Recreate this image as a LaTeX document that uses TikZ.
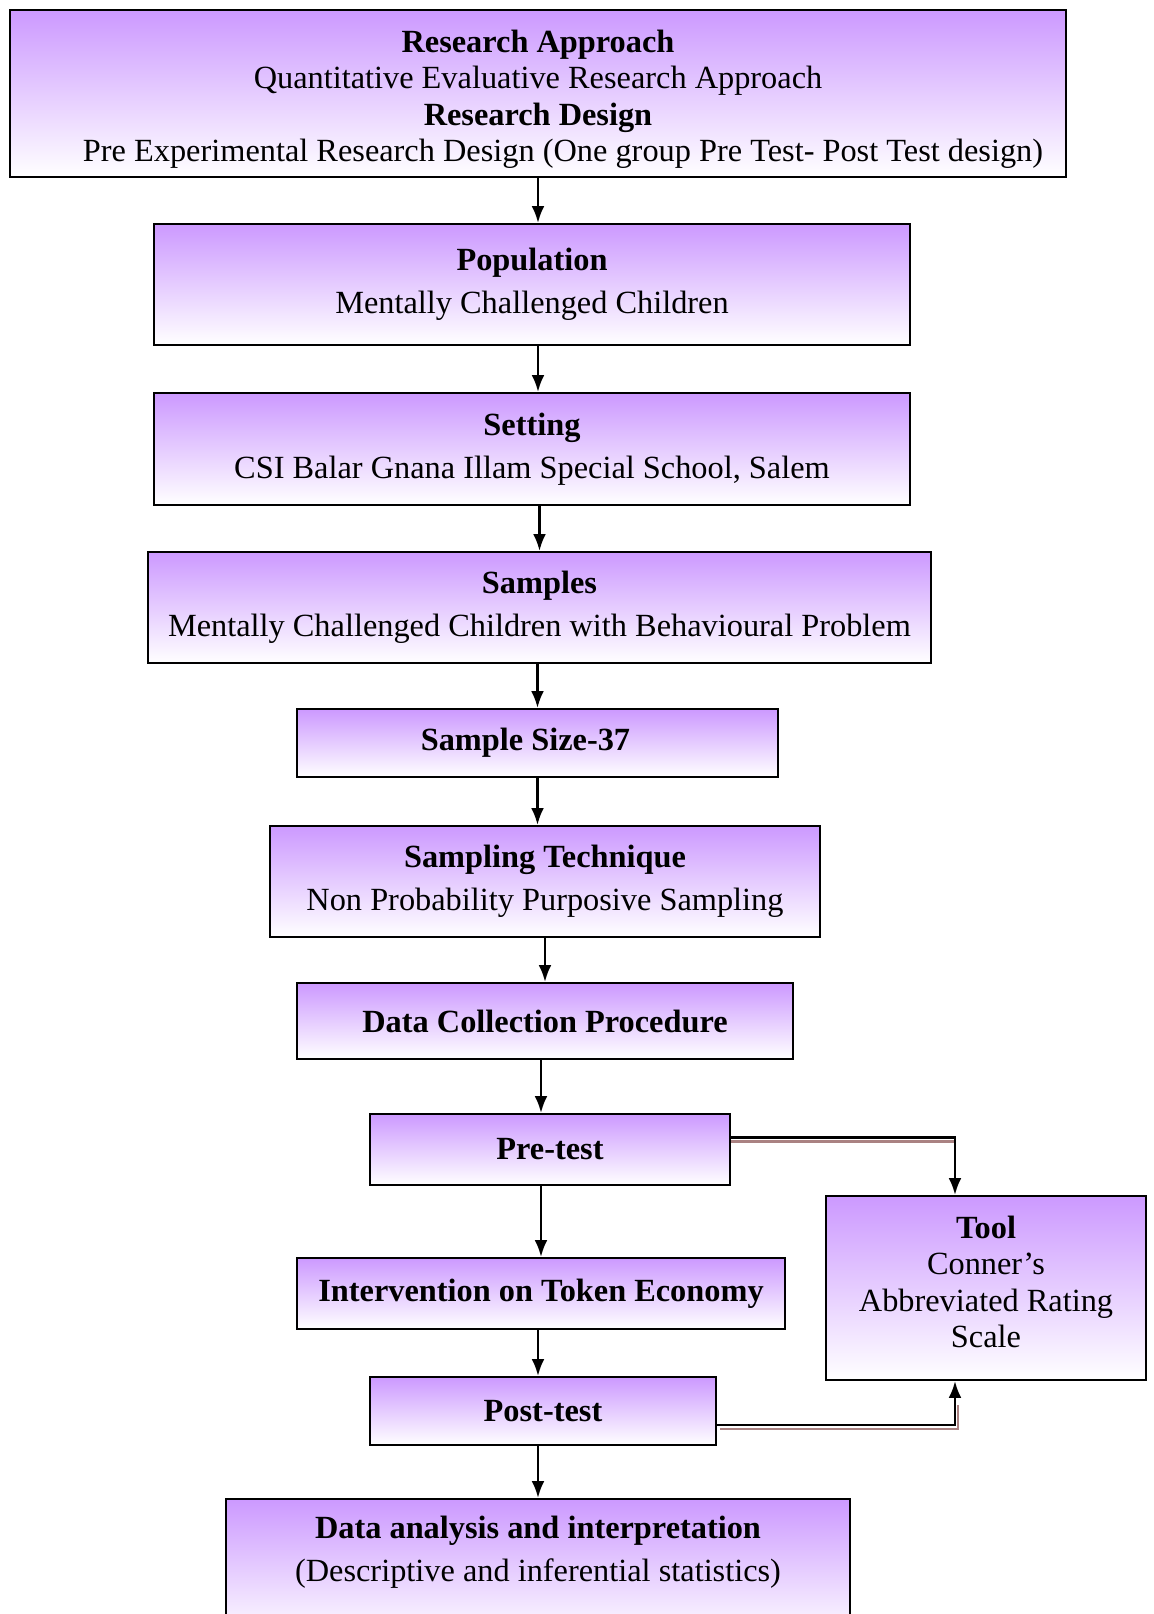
\documentclass[tikz,border=0pt]{standalone}
\usepackage{fontspec}
\setmainfont{Liberation Serif}
\usetikzlibrary{arrows.meta}
\definecolor{lavender}{RGB}{204,153,255}
\definecolor{shadowbrown}{RGB}{170,130,130}
\def\pxlen{0.025cm}
\tikzset{
  stagetext/.style={align=center, font=\fontsize{23}{26}\selectfont},
  stage/.style={draw, line width=1.4pt, top color=lavender, bottom color=white, stagetext, inner sep=0pt},
  flow/.style={-{Latex[length=4.2mm,width=3.2mm]}, line width=1.9pt},
  shadowed/.style={preaction={draw=shadowbrown, line width=1.6pt, -, shorten >=0.5cm,
      transform canvas={shift={#1}}}},
  shadowed/.default={(0.08cm,-0.1cm)}
}
\begin{document}
\begin{tikzpicture}[x=0.025cm, y=-0.025cm]
  \clip (0,0) rectangle (1154,1614);
  \fill[white] (0,0) rectangle (1154,1614);

  % main column
  \node[stage, minimum width={1056*\pxlen}, minimum height={167*\pxlen}] (research) at (538,93.5)
    {\rule{0pt}{0.85cm}\textbf{Research Approach}\\ Quantitative Evaluative Research Approach\\
     \textbf{Research Design}\\ \hspace*{1.25cm}Pre Experimental Research Design (One group Pre Test- Post Test design)};
  \node[stage, minimum width={756*\pxlen}, minimum height={121*\pxlen}] (population) at (532,284.5)
    {\textbf{Population}\\[0.15cm] Mentally Challenged Children};
  \node[stage, minimum width={756*\pxlen}, minimum height={112*\pxlen}] (setting) at (532,449)
    {\textbf{Setting}\\[0.15cm] CSI Balar Gnana Illam Special School, Salem};
  \node[stage, minimum width={783*\pxlen}, minimum height={111*\pxlen}] (samples) at (539.5,607.5)
    {\textbf{Samples}\\[0.15cm] Mentally Challenged Children with Behavioural Problem};
  \node[stage, minimum width={481*\pxlen}, minimum height={68*\pxlen}] (size) at (537.5,743)
    {\textbf{Sample Size-37}\hspace*{0.6cm}};
  \node[stage, minimum width={550*\pxlen}, minimum height={111*\pxlen}] (technique) at (545,881.5)
    {\textbf{Sampling Technique}\\[0.15cm] Non Probability Purposive Sampling};
  \node[stage, minimum width={496*\pxlen}, minimum height={76*\pxlen}] (collection) at (545,1021)
    {\textbf{Data Collection Procedure}};
  \node[stage, minimum width={360*\pxlen}, minimum height={71*\pxlen}] (pre) at (550,1149.5)
    {\textbf{Pre-test}};
  \node[stage, minimum width={488*\pxlen}, minimum height={71*\pxlen}] (intervention) at (541,1293.5)
    {\textbf{Intervention on Token Economy}};
  \node[stage, minimum width={346*\pxlen}, minimum height={68*\pxlen}] (post) at (543,1411)
    {\textbf{Post-test}};
  \node[stage, anchor=north, minimum width={624*\pxlen}, minimum height={140*\pxlen}] (analysis) at (538,1498) {};
  \node[stagetext] (analysistext) at (538,1552)
    {\textbf{Data analysis and interpretation}\\[0.15cm] (Descriptive and inferential statistics)};

  % side box
  \node[stage, minimum width={320*\pxlen}, minimum height={184*\pxlen}] (tool) at (986,1288)
    {\textbf{Tool}\\ Conner's\\ Abbreviated Rating\\ Scale\\[-0.6cm]};

  % arrows
  \draw[flow] (research.south) -- (research.south |- population.north);
  \draw[flow] (research.south |- population.south) -- (research.south |- setting.north);
  \draw[flow] (samples.north |- setting.south) -- (samples.north);
  \draw[flow] (samples.south -| size.north) -- (size.north);
  \draw[flow] (size.south) -- (size.south |- technique.north);
  \draw[flow] (technique.south) -- (technique.south |- collection.north);
  \draw[flow] (collection.south -| intervention.north) -- (intervention.north |- pre.north);
  \draw[flow] (intervention.north |- pre.south) -- (intervention.north);
  \draw[flow] (intervention.south -| analysis.north) -- (analysis.north |- post.north);
  \draw[flow] (analysis.north |- post.south) -- (analysis.north);

  % to and from the tool
  \draw[flow, shadowed={(0cm,-0.1cm)}] ([yshift=0.3cm]pre.east) -| ([xshift=-0.775cm]tool.north);
  \draw[flow, shadowed] ([yshift=-0.35cm]post.east) -| ([xshift=-0.775cm]tool.south);
\end{tikzpicture}
\end{document}
